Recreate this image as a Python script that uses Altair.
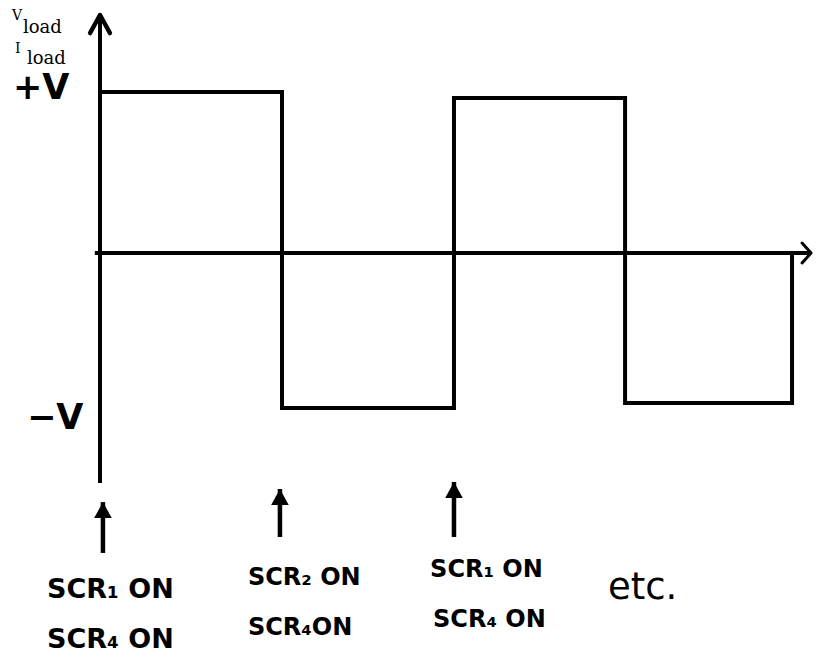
import altair as alt
import pandas as pd

# ---- data -----------------------------------------------------------------
# switching instants (in half-period units) and output levels (units of V)
switch_times = [0.0, 1.052, 2.046, 3.035, 4.0]
levels = [1.0, -0.963, 0.963, -0.932]

# trigger arrows under the time axis
trigger_times = [0.017, 1.040, 2.046]
trigger_tip = [-1.547, -1.466, -1.422]
trigger_tail = [-1.863, -1.764, -1.764]

# trigger captions
caption_line1 = ["SCR₁ ON", "SCR₂ ON", "SCR₁ ON", "etc."]
caption_line2 = ["SCR₄ ON", "SCR₄ON", "SCR₄ ON", ""]
level_labels = ["+V", "−V"]
axis_symbols = ["V", "I"]
axis_subscript = "load"

# ---- scales ---------------------------------------------------------------
X_DOMAIN = [-0.5318, 4.127]
Y_DOMAIN = [-2.503, 1.5217]
xs = alt.Scale(domain=X_DOMAIN, nice=False, zero=False)
ys = alt.Scale(domain=Y_DOMAIN, nice=False, zero=False)


def X(f="x"):
    return alt.X(f"{f}:Q", scale=xs, axis=None)


def Y(f="y"):
    return alt.Y(f"{f}:Q", scale=ys, axis=None)


# ---- square wave -----------------------------------------------------------
wt, wv = [switch_times[0]], [0.0]
for i, lv in enumerate(levels):
    wt += [switch_times[i], switch_times[i + 1]]
    wv += [lv, lv]
wt.append(switch_times[-1])
wv.append(0.0)
wave_df = pd.DataFrame({"x": wt, "y": wv, "o": range(len(wt))})

wave = alt.Chart(wave_df).mark_line(
    color="black", strokeWidth=4, strokeJoin="miter", strokeCap="square"
).encode(x=X(), y=Y(), order="o:Q")

# ---- axes ------------------------------------------------------------------
axes_df = pd.DataFrame({
    "x": [0.0, -0.03], "x2": [0.0, 4.11],
    "y": [-1.4286, 0.0], "y2": [1.478, 0.0],
})
axes = alt.Chart(axes_df).mark_rule(color="black", strokeWidth=4).encode(
    x=X(), x2="x2:Q", y=Y(), y2="y2:Q"
)

up_head = alt.Chart(pd.DataFrame({"x": [0.0], "y": [1.478]})).mark_point(
    shape="M-0.55,1 L0,0 L0.55,1", size=1296, filled=False,
    stroke="black", strokeWidth=4.5, strokeCap="round", strokeJoin="round", opacity=1,
).encode(x=X(), y=Y())

right_head = alt.Chart(pd.DataFrame({"x": [4.11], "y": [0.0]})).mark_point(
    shape="M-1,-1.1 L0,0 L-1,1.1", size=324, filled=False,
    stroke="black", strokeWidth=3, strokeCap="round", strokeJoin="round", opacity=1,
).encode(x=X(), y=Y())

# ---- trigger arrows ---------------------------------------------------------
trig_df = pd.DataFrame({"x": trigger_times, "y": trigger_tail, "y2": trigger_tip})
trig_shaft = alt.Chart(trig_df).mark_rule(color="black", strokeWidth=4.5).encode(
    x=X(), y=Y(), y2="y2:Q"
)
trig_head = alt.Chart(pd.DataFrame({"x": trigger_times, "y": trigger_tip})).mark_point(
    shape="M0,0 L0.55,1 L-0.55,1 Z", size=1024, filled=True,
    color="black", opacity=1,
).encode(x=X(), y=Y())

# ---- captions ---------------------------------------------------------------
cap_big = pd.DataFrame({
    "x": [-0.306, -0.306], "y": [-2.093, -2.404],
    "t": [caption_line1[0], caption_line2[0]],
})
cap_small = pd.DataFrame({
    "x": [0.855, 0.855, 1.908, 1.925], "y": [-2.019, -2.329, -1.969, -2.280],
    "t": [caption_line1[1], caption_line2[1], caption_line1[2], caption_line2[2]],
})
etc_df = pd.DataFrame({"x": [2.936], "y": [-2.081], "t": [caption_line1[3]]})

txt_big = alt.Chart(cap_big).mark_text(
    align="left", baseline="middle", font="DejaVu Sans", fontWeight="bold",
    fontSize=27, color="black",
).encode(x=X(), y=Y(), text="t:N")
txt_small = alt.Chart(cap_small).mark_text(
    align="left", baseline="middle", font="DejaVu Sans", fontWeight="bold",
    fontSize=24, color="black",
).encode(x=X(), y=Y(), text="t:N")
txt_etc = alt.Chart(etc_df).mark_text(
    align="left", baseline="middle", font="DejaVu Sans", fontSize=37, color="black",
).encode(x=X(), y=Y(), text="t:N")

lvl_df = pd.DataFrame({"x": [-0.503, -0.422], "y": [1.025, -1.025], "t": level_labels})
txt_lvl = alt.Chart(lvl_df).mark_text(
    align="left", baseline="middle", font="DejaVu Sans", fontWeight="bold",
    fontSize=35, color="black",
).encode(x=X(), y=Y(), text="t:N")

sym_df = pd.DataFrame({"x": [-0.509, -0.491], "y": [1.447, 1.242], "t": axis_symbols})
sub_df = pd.DataFrame({"x": [-0.445, -0.422], "y": [1.366, 1.174],
                       "t": [axis_subscript, axis_subscript]})
txt_sym = alt.Chart(sym_df).mark_text(
    align="left", baseline="alphabetic", font="DejaVu Serif", fontSize=14,
    color="black",
).encode(x=X(), y=Y(), text="t:N")
txt_sub = alt.Chart(sub_df).mark_text(
    align="left", baseline="alphabetic", font="DejaVu Serif", fontSize=18,
    color="black",
).encode(x=X(), y=Y(), text="t:N")

chart = alt.layer(
    axes, wave, up_head, right_head, trig_shaft, trig_head,
    txt_big, txt_small, txt_etc, txt_lvl, txt_sym, txt_sub,
).properties(
    width=806, height=648, padding=0,
    autosize=alt.AutoSizeParams(type="none"),
    background="white",
).configure_view(stroke=None)

chart.save("out.html", embed_options={"renderer": "svg", "actions": False})
